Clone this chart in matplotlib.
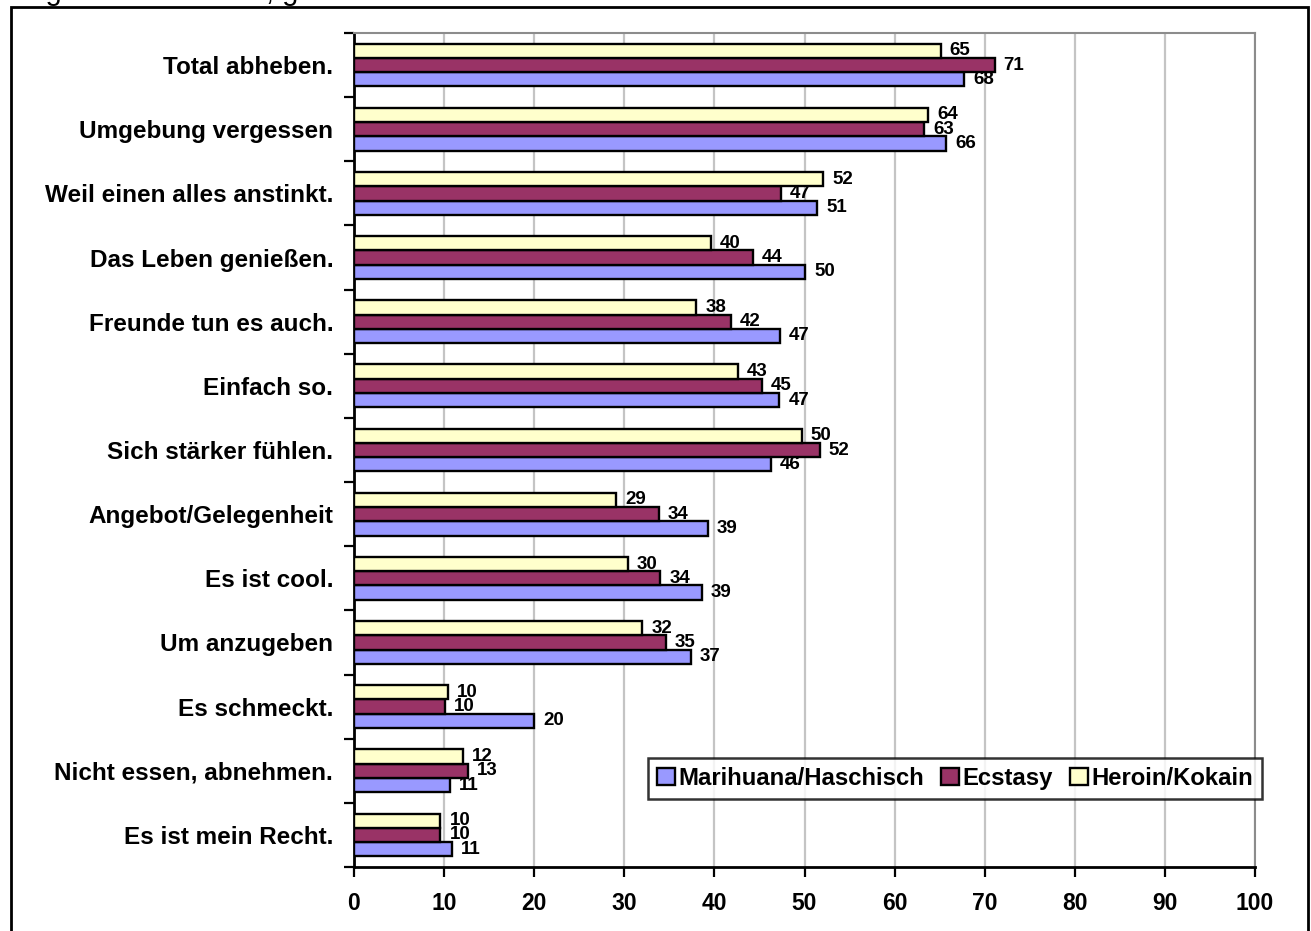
import matplotlib
matplotlib.use("Agg")
import matplotlib.pyplot as plt
import numpy as np
from matplotlib.patches import Rectangle

plt.rcParams['font.family'] = ['Liberation Sans', 'DejaVu Sans']

categories = ["Total abheben.", "Umgebung vergessen", "Weil einen alles anstinkt.",
              "Das Leben genießen.", "Freunde tun es auch.", "Einfach so.",
              "Sich stärker fühlen.", "Angebot/Gelegenheit", "Es ist cool.",
              "Um anzugeben", "Es schmeckt.", "Nicht essen, abnehmen.",
              "Es ist mein Recht."]
marihuana = [67.7, 65.7, 51.4, 50.1, 47.3, 47.2, 46.3, 39.3, 38.6, 37.4, 20.0, 10.6, 10.9]
ecstasy = [71.1, 63.3, 47.4, 44.3, 41.8, 45.3, 51.7, 33.8, 34.0, 34.6, 10.1, 12.6, 9.6]
heroin = [65.1, 63.7, 52.1, 39.6, 38.0, 42.6, 49.7, 29.1, 30.4, 32.0, 10.4, 12.1, 9.6]
series_names = ["Marihuana/Haschisch", "Ecstasy", "Heroin/Kokain"]
colors = ["#9999FF", "#993366", "#FFFFCC"]
xticks = [0, 10, 20, 30, 40, 50, 60, 70, 80, 90, 100]

W, H = 1311, 931
fig = plt.figure(figsize=(W / 100, H / 100), dpi=100)
ax = fig.add_axes([354 / W, 1 - 867 / H, (1255 - 354) / W, (867 - 33) / H])

n = len(categories)
y = np.arange(n)
h = 0.222
offsets = {"Heroin/Kokain": -h, "Ecstasy": 0.0, "Marihuana/Haschisch": h}
data = {"Marihuana/Haschisch": marihuana, "Ecstasy": ecstasy, "Heroin/Kokain": heroin}
handles = []
for name, col in zip(series_names, colors):
    vals = data[name]
    bars = ax.barh(y + offsets[name], vals, height=h, color=col, edgecolor='black',
                   linewidth=1.7, label=name, zorder=3)
    handles.append(bars)
    for yy, v in zip(y + offsets[name], vals):
        ax.annotate(f"{v:.0f}", xy=(v, yy), xytext=(6.5, 0), textcoords='offset points',
                    ha='left', va='center', fontsize=13.5, fontweight='bold', zorder=4)

ax.set_xlim(0, 100)
ax.set_ylim(n - 0.5, -0.5)
ax.set_xticks(xticks)
ax.set_xticklabels([str(t) for t in xticks], fontsize=16.5, fontweight='bold')
ax.set_yticks(y)
ax.set_yticklabels(categories, fontsize=17.5, fontweight='bold')
ax.set_yticks(np.arange(n + 1) - 0.5, minor=True)
ax.tick_params(axis='y', which='major', length=0, pad=15)
ax.tick_params(axis='y', which='minor', length=7, width=1.6, direction='out')
ax.tick_params(axis='x', which='major', length=7, width=1.6, direction='out', pad=11)

ax.grid(axis='x', color='#c4c4c4', linewidth=1.6, zorder=0)
ax.set_axisbelow(True)
for s in ['left', 'bottom']:
    ax.spines[s].set_color('black')
    ax.spines[s].set_linewidth(2.0)
for s in ['top', 'right']:
    ax.spines[s].set_color('#8c8c8c')
    ax.spines[s].set_linewidth(1.5)

leg = fig.legend(handles=handles, labels=series_names, ncol=3,
                 loc='center left', bbox_to_anchor=(648 / W, 1 - 778.5 / H),
                 prop={'size': 17.2, 'weight': 'bold'}, frameon=True, fancybox=False,
                 edgecolor='black', handlelength=0.75, handleheight=0.75,
                 handletextpad=0.15, columnspacing=0.7, borderpad=0.38,
                 borderaxespad=0)
leg.get_frame().set_linewidth(1.8)

# outer frame
fig.patches.append(Rectangle((11 / W, -0.05), (1308 - 11) / W, 1.05 - 7 / H,
                             transform=fig.transFigure, fill=False,
                             edgecolor='black', linewidth=2.0))

# cut-off header line (only descenders visible, as in the reference)
fig.text(10 / W, 1.0, "Angaben in Prozent, gerundet", fontsize=21,
         ha='left', va='baseline')

fig.savefig("out.png", dpi=100)
